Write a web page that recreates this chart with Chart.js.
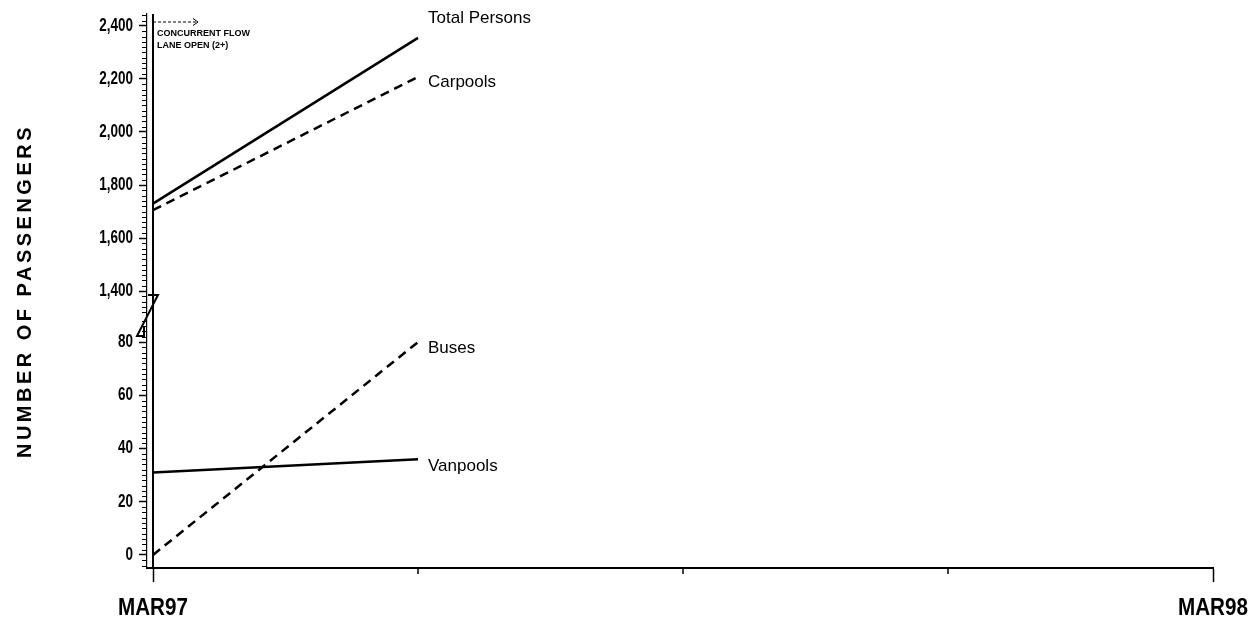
<!DOCTYPE html>
<html>
<head>
<meta charset="utf-8">
<title>Number of passengers</title>
<script src="https://cdn.jsdelivr.net/npm/chart.js@4.4.0/dist/chart.umd.min.js"></script>
<style>
  html, body { margin: 0; padding: 0; background: #fff; }
  #wrap { width: 1258px; height: 626px; }
</style>
</head>
<body>
<div id="wrap"><canvas id="chart"></canvas></div>
<script>
// x values are months after MAR97
const months = [0, 3];
const xTickValues = [0, 3, 6, 9, 12];
const xTickLabels = ['MAR97', '', '', '', 'MAR98'];

const totalPersons = [1730, 2355];
const carpools = [1705, 2208];
const buses = [0, 80];
const vanpools = [31, 36];

const seriesNames = ['Total Persons', 'Carpools', 'Buses', 'Vanpools'];

// broken y axis: upper part and lower part
const upperTicks = [1400, 1600, 1800, 2000, 2200, 2400];
const lowerTicks = [0, 20, 40, 60, 80];

const eventLabel = ['CONCURRENT FLOW', 'LANE OPEN (2+)'];
const yTitle = 'NUMBER OF PASSENGERS';

const FONT_REG = '"Liberation Sans", Arial, Helvetica, sans-serif';

const seriesValues = [totalPersons, carpools, buses, vanpools];
const seriesAxis = ['yTop', 'yTop', 'yBot', 'yBot'];
const seriesDash = [[], [9, 6], [9, 6], []];
const labelOffsetY = [-20, 5, 6, 7];

function toPoints(xs, ys) {
    return xs.map((x, i) => ({ x: x, y: ys[i] }));
}

function line(ctx, x1, y1, x2, y2) {
    ctx.beginPath();
    ctx.moveTo(x1, y1);
    ctx.lineTo(x2, y2);
    ctx.stroke();
}

// the original uses a condensed face, so squeeze the text horizontally
function condensedText(ctx, text, x, y, squeeze) {
    ctx.save();
    ctx.translate(x, y);
    ctx.scale(squeeze, 1);
    ctx.fillText(text, 0, 0);
    ctx.restore();
}

/**
 * Draws the bits Chart.js has no option for: condensed tick labels, minor ticks,
 * axis break, the lane-open marker, end-of-line labels and the rotated axis title
 */
const decorPlugin = {
    id: 'decor',
    afterDraw(chart) {
        const ctx = chart.ctx;
        const area = chart.chartArea;
        const xs = chart.scales.x;
        const yt = chart.scales.yTop;
        const yb = chart.scales.yBot;
        const ax = area.left;

        ctx.save();
        ctx.strokeStyle = '#000';
        ctx.fillStyle = '#000';

        // minor ticks on the y axis
        ctx.lineWidth = 1;
        for (let v = Math.ceil(yt.min / 20) * 20; v <= yt.max; v += 20) {
            if (v % 200 === 0) continue;
            const p = Math.round(yt.getPixelForValue(v)) + 0.5;
            line(ctx, ax - 5, p, ax, p);
        }
        for (let v = Math.ceil(yb.min / 2) * 2; v <= yb.max; v += 2) {
            if (v % 20 === 0) continue;
            const p = Math.round(yb.getPixelForValue(v)) + 0.5;
            line(ctx, ax - 5, p, ax, p);
        }

        // y tick labels
        ctx.font = 'bold 18px ' + FONT_REG;
        ctx.textAlign = 'right';
        ctx.textBaseline = 'middle';
        yt.ticks.forEach(t => {
            condensedText(ctx, t.value.toLocaleString('en-US'), ax - 14, yt.getPixelForValue(t.value), 0.75);
        });
        yb.ticks.forEach(t => {
            condensedText(ctx, String(t.value), ax - 14, yb.getPixelForValue(t.value), 0.75);
        });

        // x tick labels, and short ticks on the unlabeled positions
        ctx.font = 'bold 24px ' + FONT_REG;
        ctx.textAlign = 'center';
        ctx.lineWidth = 1.5;
        xTickValues.forEach((v, i) => {
            const p = xs.getPixelForValue(v);
            if (xTickLabels[i]) {
                condensedText(ctx, xTickLabels[i], p, area.bottom + 40, 0.86);
            } else {
                line(ctx, p, area.bottom, p, area.bottom + 6);
            }
        });

        // axis break symbol
        const p1 = yt.getPixelForValue(upperTicks[0]);
        const p2 = yb.getPixelForValue(lowerTicks[lowerTicks.length - 1]);
        ctx.lineWidth = 2;
        ctx.beginPath();
        ctx.moveTo(ax + 1, p1 + 4);
        ctx.lineTo(ax + 11, p1 + 4);
        ctx.lineTo(ax - 10, p2 - 6);
        ctx.lineTo(ax - 3, p2 - 6);
        ctx.lineTo(ax - 3, p2 - 16);
        ctx.stroke();

        // lane open marker
        const ex = xs.getPixelForValue(0);
        ctx.lineWidth = 2;
        line(ctx, ex, area.top, ex, area.bottom);
        ctx.lineWidth = 1;
        ctx.setLineDash([3, 2]);
        line(ctx, ex, area.top + 8, ex + 44, area.top + 8);
        ctx.setLineDash([]);
        ctx.beginPath();
        ctx.moveTo(ex + 40, area.top + 4.5);
        ctx.lineTo(ex + 45, area.top + 8);
        ctx.lineTo(ex + 40, area.top + 11.5);
        ctx.stroke();

        ctx.font = 'bold 9px ' + FONT_REG;
        ctx.textAlign = 'left';
        ctx.fillText(eventLabel[0], ex + 4, area.top + 19.5);
        ctx.fillText(eventLabel[1], ex + 4, area.top + 32);

        // labels at the end of each line
        ctx.font = '17px ' + FONT_REG;
        chart.data.datasets.forEach((ds, i) => {
            const meta = chart.getDatasetMeta(i);
            const last = meta.data[meta.data.length - 1];
            ctx.fillText(seriesNames[i], last.x + 10, last.y + labelOffsetY[i]);
        });

        // y axis title
        ctx.translate(25, (area.top + area.bottom) / 2);
        ctx.rotate(-Math.PI / 2);
        ctx.font = 'bold 20px ' + FONT_REG;
        ctx.letterSpacing = '3.5px';
        ctx.textAlign = 'center';
        ctx.fillText(yTitle, 0, 0);

        ctx.restore();
    }
};

document.addEventListener('DOMContentLoaded', function() {
    const datasets = seriesValues.map((vals, i) => ({
        label: seriesNames[i],
        data: toPoints(months, vals),
        yAxisID: seriesAxis[i],
        borderColor: '#000',
        borderWidth: 2.5,
        borderDash: seriesDash[i],
        pointRadius: 0,
        tension: 0,
        fill: false
    }));

    new Chart(document.getElementById('chart'), {
        type: 'line',
        data: { datasets: datasets },
        options: {
            responsive: true,
            maintainAspectRatio: false,
            animation: false,
            layout: { padding: { top: 14, right: 45, bottom: 0, left: 0 } },
            plugins: {
                legend: { display: false },
                tooltip: { enabled: false }
            },
            scales: {
                x: {
                    type: 'linear',
                    min: -0.068,
                    max: 12,
                    afterBuildTicks: s => { s.ticks = xTickValues.map(v => ({ value: v })); },
                    afterFit: s => {
                        s.height = 58;
                        s.paddingLeft = 0;
                        s.paddingRight = 0;
                    },
                    ticks: { display: false },
                    grid: {
                        drawOnChartArea: false,
                        tickLength: 14,
                        tickWidth: 1.5,
                        tickColor: c => xTickLabels[c.index] ? '#000' : 'rgba(0,0,0,0)'
                    },
                    border: { color: '#000', width: 2 }
                },
                yBot: {
                    type: 'linear',
                    position: 'left',
                    stack: 'y',
                    stackWeight: 252,
                    min: -4.9,
                    max: 89.8,
                    afterBuildTicks: s => { s.ticks = lowerTicks.map(v => ({ value: v })); },
                    afterFit: s => { s.width = 147; },
                    ticks: { display: false },
                    grid: { drawOnChartArea: false, tickLength: 8, tickWidth: 1.5, tickColor: '#000' },
                    border: { color: '#000', width: 1.2 }
                },
                yTop: {
                    type: 'linear',
                    position: 'left',
                    stack: 'y',
                    stackWeight: 302,
                    min: 1306,
                    max: 2445,
                    afterBuildTicks: s => { s.ticks = upperTicks.map(v => ({ value: v })); },
                    afterFit: s => { s.width = 147; },
                    ticks: { display: false },
                    grid: { drawOnChartArea: false, tickLength: 8, tickWidth: 1.5, tickColor: '#000' },
                    border: { color: '#000', width: 1.2 }
                }
            }
        },
        plugins: [decorPlugin]
    });
});
</script>
</body>
</html>
